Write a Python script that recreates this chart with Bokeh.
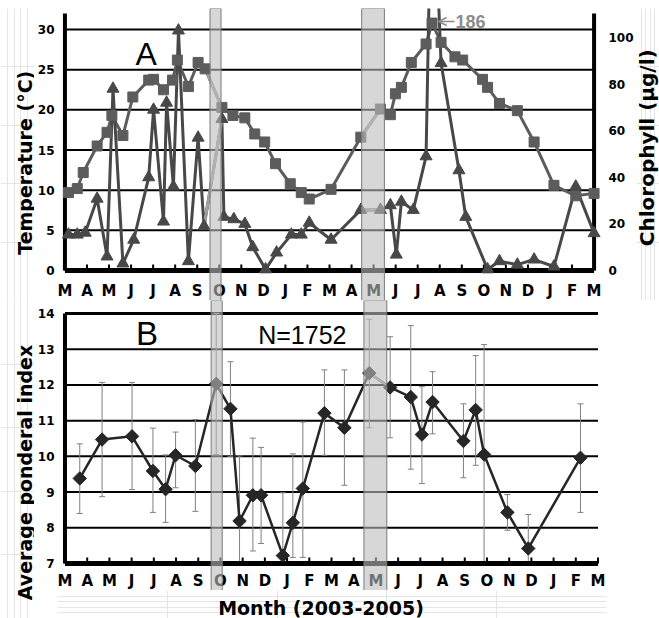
import math
from bokeh.plotting import figure
from bokeh.models import (Range1d, LinearAxis, FixedTicker, Label, Arrow, OpenHead)
from bokeh.core.properties import value
from bokeh.layouts import column, row
from bokeh.embed import file_html
from bokeh.resources import INLINE

# ---------------- data ----------------
month_labels = ["M", "A", "M", "J", "J", "A", "S", "O", "N", "D", "J", "F",
                "M", "A", "M", "J", "J", "A", "S", "O", "N", "D", "J", "F", "M"]

# Panel A: temperature (squares), month index from March 2003
temp_month = [0.16, 0.56, 0.83, 1.46, 1.91, 2.13, 2.63, 3.08, 3.80, 4.02, 4.47, 4.88,
              5.10, 5.60, 6.04, 6.36, 7.12, 7.62, 8.16, 8.61, 9.06, 9.55, 10.22, 10.72,
              11.08, 12.07, 13.42, 14.31, 14.76, 14.99, 15.26, 15.71, 16.38, 16.65, 17.06,
              17.69, 18.04, 18.94, 19.17, 19.71, 20.52, 21.28, 22.18, 23.17, 24.0]
temp_c = [9.7, 10.2, 12.2, 15.5, 17.2, 19.3, 16.8, 21.6, 23.7, 23.8, 22.5, 23.7,
          26.2, 22.9, 25.9, 25.1, 20.3, 19.3, 19.0, 17.0, 16.0, 13.3, 10.8, 9.7,
          8.9, 10.1, 16.6, 20.1, 19.4, 22.0, 22.8, 25.9, 28.2, 30.8, 28.4,
          26.6, 26.2, 23.8, 22.8, 20.8, 19.9, 16.0, 10.6, 9.3, 9.6]

# Panel A: chlorophyll (triangles)
chl_month = [0.16, 0.56, 0.92, 1.46, 1.91, 2.18, 2.63, 3.12, 3.80, 4.02, 4.47, 4.61,
             4.92, 5.15, 5.60, 6.04, 6.31, 7.12, 7.21, 7.66, 8.16, 8.52, 9.10, 9.60,
             10.27, 10.72, 11.08, 12.07, 13.42, 14.31, 14.76, 15.03, 15.26, 15.80, 16.38,
             16.65, 17.06, 17.87, 18.18, 19.17, 19.71, 20.52, 21.28, 22.18, 23.17, 24.0]
chl_ugl = [15.4, 15.4, 16.2, 30.8, 6.0, 78, 3, 13.2, 40, 69, 21, 72,
           36, 103, 4, 57, 19, 65, 23, 22, 20, 10, 0.5, 7.7,
           15.4, 15.4, 20.5, 13.2, 26, 26, 28, 6.8, 29.5, 26, 49,
           186, 89, 43, 23, 0.5, 4, 2.5, 4.7, 1.7, 36, 16]

# Panel B: average ponderal index with error bars
pi_month = [0.665, 1.67, 3.02, 3.96, 4.53, 4.98, 5.87, 6.81, 7.45, 7.86, 8.46, 8.83,
            9.81, 10.26, 10.71, 11.68, 12.58, 13.70, 14.64, 15.57, 16.07, 16.55, 17.94,
            18.49, 18.87, 19.92, 20.86, 23.21]
pi_mean = [9.38, 10.47, 10.56, 9.59, 9.08, 10.03, 9.73, 12.03, 11.33, 8.19, 8.91, 8.91,
           7.22, 8.14, 9.10, 11.21, 10.80, 12.33, 11.93, 11.66, 10.61, 11.52, 10.43,
           11.30, 10.05, 8.43, 7.42, 9.96]
pi_upper = [10.35, 12.07, 12.07, 10.79, 10.04, 10.68, 11.03, 14.0, 12.65, 10.01, 10.51, 10.25,
            8.98, 10.07, 10.96, 12.42, 12.42, 13.84, 13.35, 13.66, 11.95, 12.37, 11.47,
            12.82, 13.13, 8.93, 8.37, 11.47]
pi_lower = [8.40, 8.87, 9.07, 8.43, 8.15, 9.12, 8.46, 10.05, 10.0, 6.37, 7.35, 7.56,
            5.46, 7.17, 7.17, 10.03, 9.19, 10.80, 10.52, 9.64, 9.24, 10.63, 9.40,
            9.75, 6.9, 7.93, 6.47, 8.43]
sample_n = 1752

temp_ticks = [0, 5, 10, 15, 20, 25, 30]
chl_ticks = [0, 20, 40, 60, 80, 100]
pi_ticks = [7, 8, 9, 10, 11, 12, 13, 14]

# highlighted months (Oct 2003, May 2004)
band_months = [(6.58, 7.08), (13.46, 14.49)]

# segments drawn in light grey (index pairs)
temp_grey = [(15, 16), (26, 27), (27, 28)]
chl_grey = [(16, 17), (28, 29), (29, 30)]
pi_grey = [(17, 18)]

# ---------------- styling / geometry ----------------
TICK_FONT = "DejaVu Sans"
TEXT_FONT = "Liberation Sans"
TITLE_FONT = "DejaVu Sans"
SQ_COL = "#5c5c5c"
TRI_COL = "#484848"
LIGHT = "#a0a0a0"
BAND_FILL = "#bdbdbd"
BAND_LINE = "#7a7a7a"

N_MONTHS = len(month_labels) - 1
PXM = 22.25          # px per month
X_RANGE = (-7.5 / PXM, N_MONTHS + 8.5 / PXM)
PXA = 8.033          # px per degree in panel A
PXC = 2.33           # px per ug/l in panel A
PXB = 35.71          # px per unit in panel B
A_TOP = 32.0         # top of panel A axes
A_RANGE = (-30 / PXA, 262 / PXA)
C_RANGE = (-30 / PXC, 262 / PXC)
B_RANGE = (14 - 277 / PXB, 14 + 13 / PXB)
SIDE_L = 34
SIDE_R = 23
months_idx = list(range(len(month_labels)))


def style_yaxis(ax, ticks, standoff):
    ax.ticker = FixedTicker(ticks=ticks)
    ax.axis_line_color = None
    ax.major_tick_line_color = None
    ax.minor_tick_line_color = None
    ax.major_tick_out = 0
    ax.major_tick_in = 0
    ax.minor_tick_out = 0
    ax.minor_tick_in = 0
    ax.major_label_text_font = TICK_FONT
    ax.major_label_text_font_style = "bold"
    ax.major_label_text_font_size = "12px"
    ax.major_label_text_color = "black"
    ax.major_label_standoff = standoff


def month_axis(p, y0, tick_len, label_y):
    p.segment(x0=months_idx, y0=[y0] * len(months_idx), x1=months_idx,
              y1=[y0 + tick_len] * len(months_idx), line_color="black", line_width=2)
    p.segment(x0=[0], y0=[y0], x1=[N_MONTHS], y1=[y0], line_color="black", line_width=5)
    p.text(x=months_idx, y=[label_y] * len(months_idx), text=month_labels,
           text_font=value(TICK_FONT), text_font_style="bold", text_font_size="15px",
           text_align="center", text_baseline="middle", text_color="black")


def hgrid(p, ys, width):
    p.segment(x0=[0] * len(ys), y0=ys, x1=[N_MONTHS] * len(ys), y1=ys,
              line_color="black", line_width=width)


def text_strip(width, height, text, x, y, size, angle):
    s = figure(width=width, height=height, x_range=Range1d(0, 1), y_range=Range1d(0, 1),
               output_backend="svg", toolbar_location=None, x_axis_location=None,
               y_axis_location=None, min_border=0)
    s.outline_line_color = None
    s.add_layout(Label(x=x, y=y, text=text, angle=angle, text_font=TITLE_FONT,
                       text_font_style="bold", text_font_size=size, text_align="center",
                       text_baseline="middle", text_color="black"))
    return s


# ---------------- panel A ----------------
p1 = figure(width=659 - SIDE_L - SIDE_R, height=300, x_range=Range1d(*X_RANGE),
            y_range=Range1d(*A_RANGE), output_backend="svg", toolbar_location=None,
            x_axis_location=None, min_border_left=56 - SIDE_L,
            min_border_right=659 - SIDE_R - 606, min_border_top=8, min_border_bottom=0)
p1.outline_line_color = None
p1.grid.visible = False
p1.extra_y_ranges = {"chl": Range1d(*C_RANGE)}
style_yaxis(p1.yaxis[0], temp_ticks, 3)
rax = LinearAxis(y_range_name="chl")
style_yaxis(rax, chl_ticks, 6)
p1.add_layout(rax, "right")

hgrid(p1, temp_ticks[1:], 2)
p1.segment(x0=[0, N_MONTHS], y0=[0, 0], x1=[0, N_MONTHS], y1=[A_TOP, A_TOP],
           line_color="black", line_width=4)
month_axis(p1, 0, 6 / PXA, -20 / PXA)

p1.line(temp_month, temp_c, line_color=SQ_COL, line_width=3)
p1.segment(x0=[temp_month[a] for a, b in temp_grey], y0=[temp_c[a] for a, b in temp_grey],
           x1=[temp_month[b] for a, b in temp_grey], y1=[temp_c[b] for a, b in temp_grey],
           line_color=LIGHT, line_width=3)
p1.line(chl_month, chl_ugl, y_range_name="chl", line_color=TRI_COL, line_width=3)
p1.segment(x0=[chl_month[a] for a, b in chl_grey], y0=[chl_ugl[a] for a, b in chl_grey],
           x1=[chl_month[b] for a, b in chl_grey], y1=[chl_ugl[b] for a, b in chl_grey],
           line_color=LIGHT, line_width=3, y_range_name="chl")
p1.scatter(temp_month, temp_c, marker="square", size=10, color=SQ_COL)
p1.scatter(chl_month, chl_ugl, marker="triangle", size=12, color=TRI_COL, y_range_name="chl")

peak = max(range(len(chl_ugl)), key=lambda i: chl_ugl[i])
p1.add_layout(Arrow(end=OpenHead(size=8, line_color="#8c8c8c", line_width=1.5),
                    x_start=chl_month[peak] + 1.02, y_start=31.0,
                    x_end=chl_month[peak] + 0.3, y_end=31.0,
                    line_color="#8c8c8c", line_width=1.5))
p1.add_layout(Label(x=chl_month[peak] + 1.06, y=31.0, text=str(int(chl_ugl[peak])),
                    text_font=TEXT_FONT, text_font_style="bold", text_font_size="18px",
                    text_color="#8c8c8c", text_baseline="middle"))
p1.add_layout(Label(x=3.2, y=26.9, text="A", text_font=TEXT_FONT, text_font_size="32px",
                    text_baseline="middle", text_color="black"))
p1.quad(left=[a for a, b in band_months], right=[b for a, b in band_months],
        bottom=A_RANGE[0], top=A_RANGE[1], fill_color=BAND_FILL, fill_alpha=0.6,
        line_color=BAND_LINE, line_width=1)

left1 = text_strip(SIDE_L, 300, "Temperature (°C)", 24 / SIDE_L, 0.4717, "19px", math.pi / 2)
right1 = text_strip(SIDE_R, 300, "Chlorophyll (μg/l)", 10 / SIDE_R, 0.523, "20px", math.pi / 2)

# ---------------- panel B ----------------
p2 = figure(width=659 - SIDE_L, height=290, x_range=Range1d(*X_RANGE), y_range=Range1d(*B_RANGE),
            output_backend="svg", toolbar_location=None, x_axis_location=None,
            min_border_left=56 - SIDE_L, min_border_right=659 - 606, min_border_top=0,
            min_border_bottom=0)
p2.outline_line_color = None
p2.grid.visible = False
style_yaxis(p2.yaxis[0], pi_ticks, 3)

hgrid(p2, pi_ticks[1:-1], 2)
hgrid(p2, pi_ticks[-1:], 3)
p2.segment(x0=[0], y0=[pi_ticks[0]], x1=[0], y1=[pi_ticks[-1]], line_color="black", line_width=4)

ymin = pi_ticks[0]
p2.segment(x0=pi_month, y0=[max(v, ymin) for v in pi_lower], x1=pi_month, y1=pi_upper,
           line_color="#808080", line_width=1)
p2.scatter(pi_month, pi_upper, marker="dash", size=6, line_color="#808080", line_width=1)
low_ok = [i for i, v in enumerate(pi_lower) if v >= ymin]
p2.scatter([pi_month[i] for i in low_ok], [pi_lower[i] for i in low_ok], marker="dash",
           size=6, line_color="#808080", line_width=1)
month_axis(p2, ymin, 6 / PXB, ymin - 18 / PXB)
p2.line(pi_month, pi_mean, line_color="#262626", line_width=2.5)
p2.segment(x0=[pi_month[a] for a, b in pi_grey], y0=[pi_mean[a] for a, b in pi_grey],
           x1=[pi_month[b] for a, b in pi_grey], y1=[pi_mean[b] for a, b in pi_grey],
           line_color=LIGHT, line_width=2.5)
p2.scatter(pi_month, pi_mean, marker="square", angle=math.pi / 4, size=9.5, color="#262626")

p2.add_layout(Label(x=3.2, y=13.45, text="B", text_font=TEXT_FONT, text_font_size="33px",
                    text_baseline="middle", text_color="black"))
p2.add_layout(Label(x=8.7, y=13.41, text=f"N={sample_n}", text_font=TEXT_FONT,
                    text_font_size="25px", text_baseline="middle", text_color="black"))
p2.quad(left=[a for a, b in band_months], right=[b for a, b in band_months],
        bottom=B_RANGE[0], top=B_RANGE[1], fill_color=BAND_FILL, fill_alpha=0.6,
        line_color=BAND_LINE, line_width=1)

left2 = text_strip(SIDE_L, 318, "Average ponderal index", 24 / SIDE_L, (618 - 472) / 318,
                   "19px", math.pi / 2)
bottom = text_strip(659 - SIDE_L, 28, "Month (2003-2005)", (334 - SIDE_L) / (659 - SIDE_L),
                    0.39, "19px", 0)

layout = column(row(left1, p1, right1), row(left2, column(p2, bottom)))
open("out.html", "w").write(file_html(layout, INLINE))
